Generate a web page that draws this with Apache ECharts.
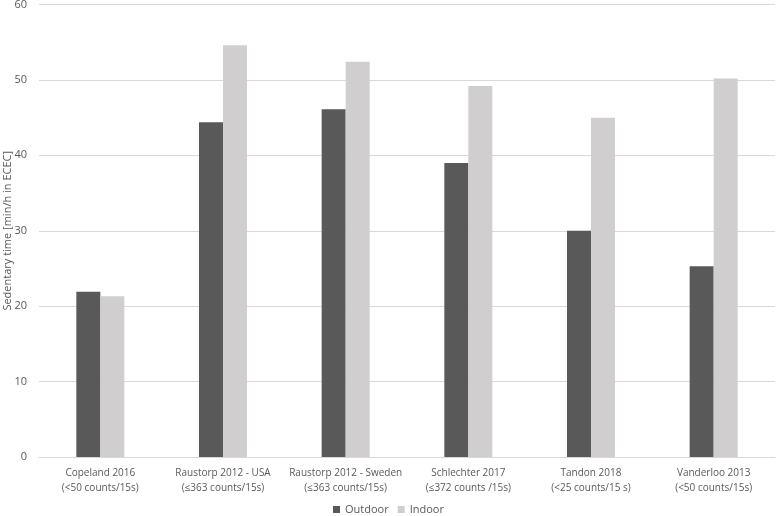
<!DOCTYPE html>
<html><head><meta charset="utf-8">
<script src="https://cdn.jsdelivr.net/npm/echarts@6/dist/echarts.min.js"></script>
<style>html,body{margin:0;padding:0;background:#fff}#c{width:777px;height:516px}</style>
</head><body><div id="c"></div>
<script>
const categories = ["Copeland 2016\n(<50 counts/15s)", "Raustorp 2012 - USA\n(≤363 counts/15s)", "Raustorp 2012 - Sweden\n(≤363 counts/15s)", "Schlechter 2017\n(≤372 counts /15s)", "Tandon 2018\n(<25 counts/15 s)", "Vanderloo 2013\n(<50 counts/15s)"];
const outdoor = [21.9, 44.4, 46.1, 39.0, 30.0, 25.3];
const indoor = [21.3, 54.6, 52.4, 49.2, 45.0, 50.2];
const yTicks = {min: 0, max: 60, interval: 10};

const chart = echarts.init(document.getElementById('c'), null, {renderer: 'canvas'});
const font = "'Open Sans', sans-serif";
chart.setOption({
  animation: false,
  textStyle: {fontFamily: font},
  grid: {left: 39, right: 2, top: 4.5, bottom: 59, containLabel: false, outerBoundsMode: 'none'},
  legend: {
    top: 504, left: 'center', padding: 0, itemWidth: 7, itemHeight: 7, itemGap: 9,
    textStyle: {color: '#595959', fontSize: 11, fontFamily: font},
    data: ['Outdoor', 'Indoor'], icon: 'rect'
  },
  xAxis: {
    type: 'category', data: categories,
    axisLine: {lineStyle: {color: '#d9d9d9'}},
    axisTick: {show: false},
    axisLabel: {color: '#595959', fontSize: 10, lineHeight: 15, margin: 9, interval: 0, fontFamily: font}
  },
  yAxis: {
    type: 'value', min: yTicks.min, max: yTicks.max, interval: yTicks.interval,
    name: 'Sedentary time [min/h in ECEC]', nameLocation: 'middle', nameGap: 26, nameMoveOverlap: false,
    nameTextStyle: {color: '#595959', fontSize: 11, fontFamily: font},
    axisLine: {show: false}, axisTick: {show: false},
    axisLabel: {color: '#595959', fontSize: 11, margin: 12, fontFamily: font},
    splitLine: {lineStyle: {color: '#d9d9d9', width: 1}}
  },
  series: [
    {name: 'Outdoor', type: 'bar', data: outdoor, barWidth: 24, barGap: '0%', itemStyle: {color: '#595959'}},
    {name: 'Indoor', type: 'bar', data: indoor, barWidth: 24, itemStyle: {color: '#d0cecf'}}
  ]
});
</script></body></html>
